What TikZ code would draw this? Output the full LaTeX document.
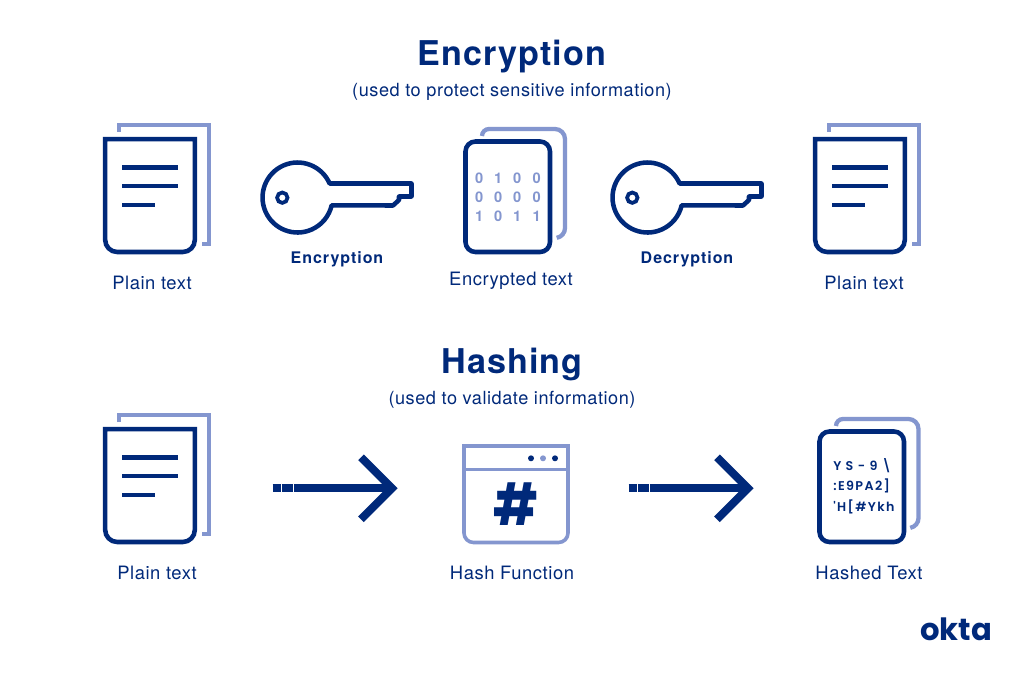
\documentclass[tikz,border=0pt]{standalone}
\usepackage{fontspec}
\setmainfont[LetterSpace=3,Ligatures=NoCommon]{TeX Gyre Heros}
\newfontfamily\popp{Poppins}
\newfontfamily\boldsp[LetterSpace=6,Ligatures=NoCommon]{TeX Gyre Heros Bold}
\newfontfamily\monosp[LetterSpace=11]{Poppins SemiBold}
\definecolor{navy}{HTML}{00297A}
\definecolor{soft}{HTML}{8496CF}
\tikzset{
  x=0.75pt,y=-0.75pt,
  ink/.style={draw=navy,line width=3.4pt,line cap=butt,line join=miter},
  inkthin/.style={draw=navy,line width=3.4pt},
  back/.style={draw=soft,line width=3.2pt},
  label/.style={text=navy,anchor=base,inner sep=0pt,font=\fontsize{13.8}{15}\selectfont},
  boldlabel/.style={text=navy,anchor=base,inner sep=0pt,font=\fontsize{12}{14}\boldsp},
  heading/.style={text=navy,anchor=base,inner sep=0pt,font=\fontsize{25.6}{30}\selectfont\bfseries},
  sub/.style={text=navy,anchor=base,inner sep=0pt,font=\fontsize{13.6}{15}\selectfont},
  digit/.style={text=soft,anchor=center,inner sep=0pt,font=\fontsize{11}{12}\selectfont\bfseries},
  hashline/.style={text=navy,anchor=base west,inner sep=0pt,font=\fontsize{9.5}{11}\monosp},
  arrowline/.style={draw=navy,line width=6pt},
}
\newcommand{\plainpage}[1]{%
  \begin{scope}[shift={#1}]
    \draw[back] (119,132) -- (119,125) -- (209,125) -- (209,244) -- (201.5,244);
    \draw[ink,fill=white] (105.2,139.2) -- (194.8,139.2) -- (194.8,240) arc[start angle=0,end angle=90,radius=12] -- (117.2,252) arc[start angle=90,end angle=180,radius=12] -- cycle;
    \draw[ink] (122,167.5) -- (178,167.5);
    \draw[ink] (122,186) -- (178,186);
    \draw[ink] (122,205) -- (155,205);
  \end{scope}}
\newcommand{\keyicon}[1]{%
  \begin{scope}[shift={#1}]
    \draw[inkthin,line join=round] (329.6,183.5) arc[start angle=-23.6,end angle=-347,radius=35] -- (393,205.5) -- (399,200) -- (399,196.5) -- (411.5,196.5) -- (411.5,183.5) -- cycle;
    \draw[draw=navy,line width=2.8pt] (282.3,197.7) circle[radius=5.2];
  \end{scope}}
\newcommand{\roundpage}[6]{% x1 x2 y1 y2 backright backbottom
  \draw[back] ({#1+16.5},{#3-5.5}) arc[start angle=180,end angle=270,radius=7] -- ({#5-10},{#3-12.5}) arc[start angle=-90,end angle=0,radius=10] -- (#5,{#6-10}) arc[start angle=0,end angle=80,radius=10];
  \draw[ink,fill=white,rounded corners=7.5] (#1,#3) rectangle (#2,#4);}
\begin{document}
\begin{tikzpicture}
\useasboundingbox (0,0) rectangle (1024,677);
\fill[white] (0,0) rectangle (1024,677);

\node[heading] (t1) at (512,65.5) {Encryption};
\node[sub] (s1) at (512,96.5) {(used to protect sensitive information)};
\node[heading] (t2) at (512,373.5) {Hashing};
\node[sub] (s2) at (512,404.5) {(used to validate information)};

\plainpage{(0,0)}
\plainpage{(710,0)}
\plainpage{(0,290)}

\keyicon{(0,0)}
\keyicon{(350,0)}

\roundpage{465.5}{550}{141.5}{252}{565}{238}
\foreach \xx/\yy/\dd [count=\i] in {479.3/178.3/0,498.3/178.3/1,517.3/178.3/0,536.7/178.3/0,
  479.3/197.7/0,498.3/197.7/0,517.3/197.7/0,536.7/197.7/0,
  479.3/216.7/1,498.3/216.7/0,517.3/216.7/1,536.7/216.7/1}
  \node[digit] (d\i) at (\xx,\yy) {\dd};

\roundpage{819.5}{904}{431.5}{542}{918.5}{528}
\node[hashline] (h1) at (833,470) {Y S - 9 \textbackslash};
\node[hashline] (h2) at (833,490.5) {:E9PA2]};
\node[hashline] (h3) at (833,511) {'H[\#Ykh};

\draw[back,line width=2.7pt] (464,446) -- (568,446) -- (568,533) arc[start angle=0,end angle=90,radius=9.5] -- (473.5,542.5) arc[start angle=90,end angle=180,radius=9.5] -- cycle;
\draw[back,line width=2.7pt] (464,469.3) -- (568,469.3);
\fill[navy] (531,458.3) circle[radius=3];
\fill[soft] (543,458.3) circle[radius=3];
\fill[navy] (555,458.3) circle[radius=3];
\node[text=navy,inner sep=0pt,font=\fontsize{38}{40}\popp\bfseries] (hash) at (516,504) {\scalebox{0.98}[1.14]{\#}};

\coordinate (a1s) at (272.7,488.3);
\coordinate (a1e) at (392,488.3);
\coordinate (a2s) at (628.7,488.3);
\coordinate (a2e) at (748,488.3);
\foreach \s/\e in {a1s/a1e,a2s/a2e}{
  \draw[arrowline] (\s) -- ++(8.3,0);
  \draw[arrowline] ([xshift=6.75pt]\s) -- ++(11,0);
  \draw[arrowline] ([xshift=15.9pt]\s) -- (\e);
  \draw[arrowline,line join=miter] ([shift={(-31,-31)}]\e) -- (\e) -- ([shift={(-31,31)}]\e);
}

\node[label] (p1) at (152,289.5) {Plain text};
\node[boldlabel] (l1) at (337,263) {Encryption};
\node[label] (e1) at (511,285.5) {Encrypted text};
\node[boldlabel] (l2) at (687,263) {Decryption};
\node[label] (p2) at (864,289.5) {Plain text};
\node[label] (p3) at (157,579.5) {Plain text};
\node[label] (hf) at (512,579.5) {Hash Function};
\node[label] (ht) at (869,579.5) {Hashed Text};
\node[text=navy,anchor=base,inner sep=0pt,font=\fontsize{23}{24}\popp\bfseries] (okta) at (956,640) {okta};
\end{tikzpicture}
\end{document}
